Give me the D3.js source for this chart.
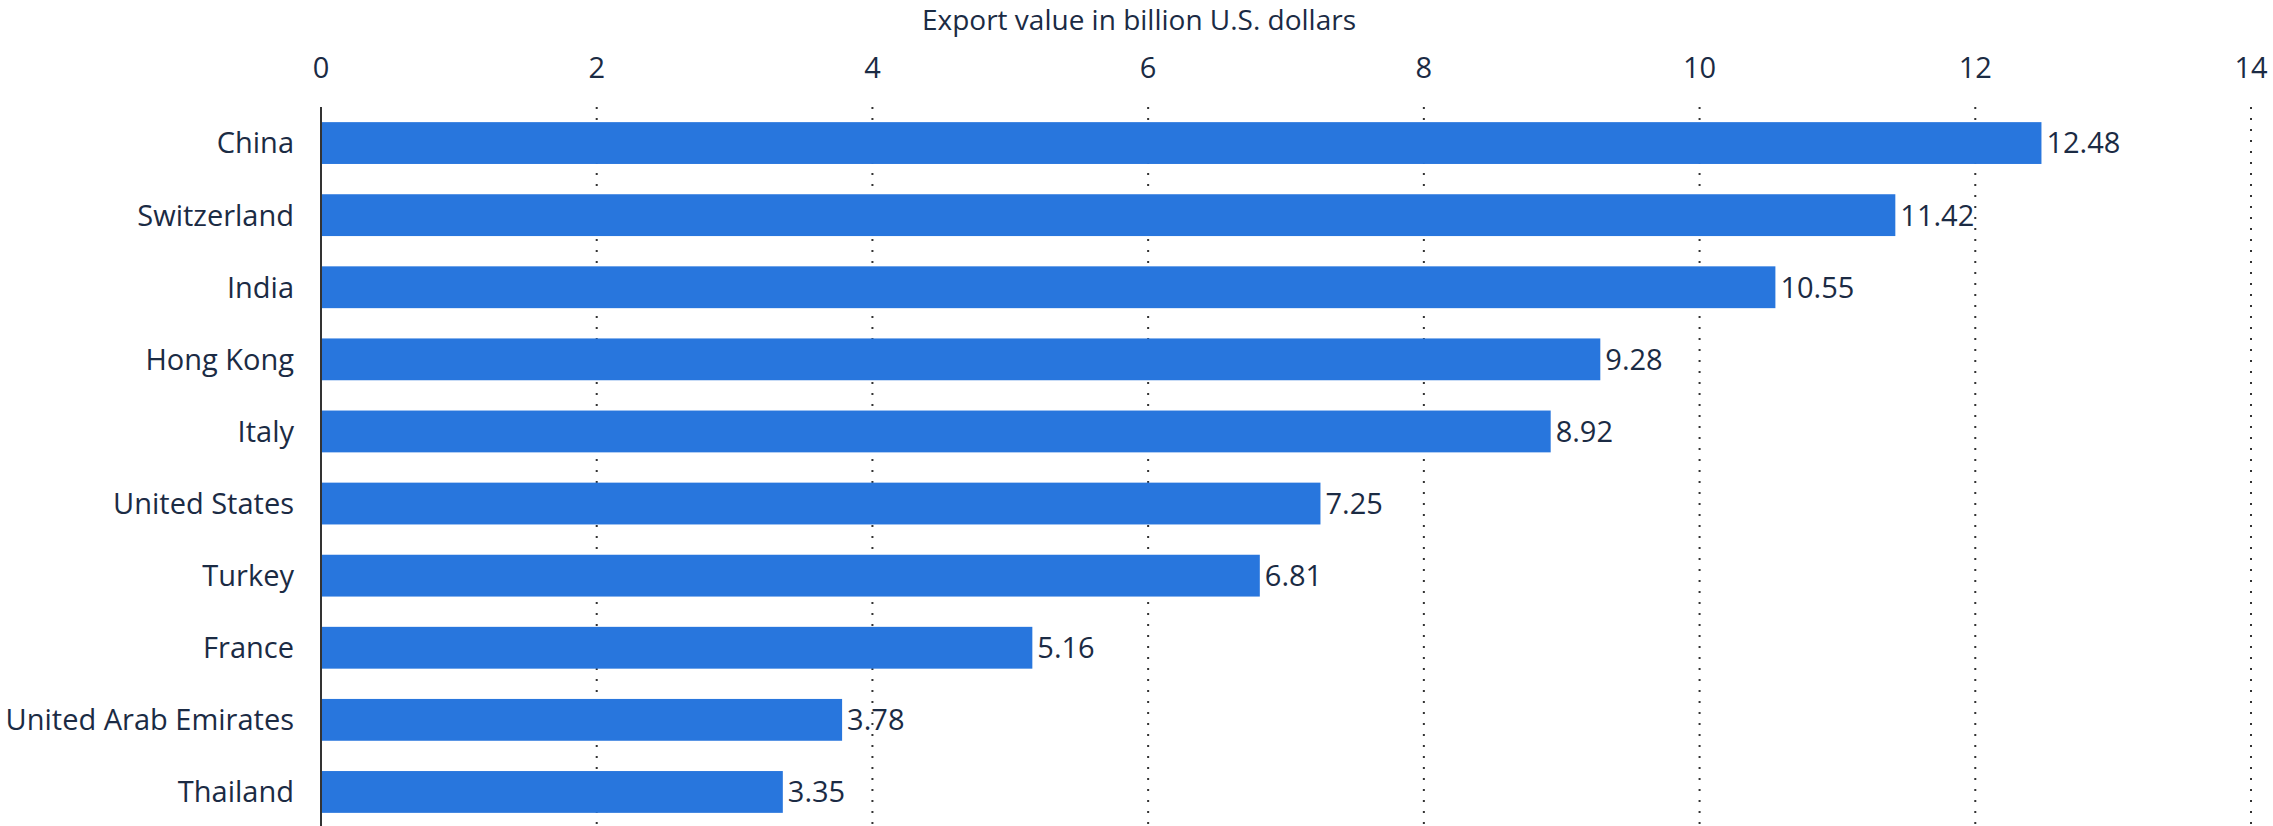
<!DOCTYPE html>
<html>
<head>
<meta charset="utf-8">
<script src="https://cdn.jsdelivr.net/npm/d3@7"></script>
<style>
  body { margin: 0; background: #fff; }
  svg text { font-family: "Open Sans", sans-serif; fill: #1b2b44; }
</style>
</head>
<body>
<svg id="chart"></svg>
<script>
// data
const countries = ["China", "Switzerland", "India", "Hong Kong", "Italy",
    "United States", "Turkey", "France", "United Arab Emirates", "Thailand"];
const exportValues = [12.48, 11.42, 10.55, 9.28, 8.92, 7.25, 6.81, 5.16, 3.78, 3.35];
const xTicks = [0, 2, 4, 6, 8, 10, 12, 14];
const axisTitle = "Export value in billion U.S. dollars";

const chartWidth = 2273
const chartHeight = 826
const plotLeft = 321
const plotRight = 2251
const plotTop = 107
const plotBottom = 828

const svg = d3.select("#chart")
    .attr("width", chartWidth)
    .attr("height", chartHeight);

const x = d3.scaleLinear()
    .domain([0, 14])
    .range([plotLeft, plotRight]);

const y = d3.scaleBand()
    .domain(countries)
    .range([plotTop, plotBottom])
    .paddingInner(0.42)
    .paddingOuter(0.21);

// axis title
svg.append("text")
    .attr("x", 1139)
    .attr("y", 30)
    .attr("text-anchor", "middle")
    .style("font-size", "28px")
    .text(axisTitle);

// tick labels on top
svg.append("g").selectAll("text")
    .data(xTicks)
    .enter()
    .append("text")
        .attr("x", d => x(d))
        .attr("y", 68)
        .attr("dy", "0.35em")
        .attr("text-anchor", "middle")
        .style("font-size", "29px")
        .text(d => d);

// value labels (drawn before grid so dots run over them like in the original)
svg.append("g").selectAll("text")
    .data(exportValues)
    .enter()
    .append("text")
        .attr("x", d => x(d) + 5)
        .attr("y", (d, i) => y(countries[i]) + y.bandwidth() / 2)
        .attr("dy", "0.36em")
        .style("font-size", "29px")
        .text(d => d.toFixed(2));

// dotted grid
svg.append("g").selectAll("line")
    .data(xTicks.slice(1))
    .enter()
    .append("line")
        .attr("x1", d => x(d))
        .attr("x2", d => x(d))
        .attr("y1", plotTop)
        .attr("y2", chartHeight)
        .attr("stroke", "#333")
        .attr("stroke-width", 2)
        .attr("stroke-dasharray", "2,9");

// bars
svg.append("g").selectAll("rect")
    .data(exportValues)
    .enter()
    .append("rect")
        .attr("x", x(0))
        .attr("y", (d, i) => y(countries[i]))
        .attr("width", d => x(d) - x(0))
        .attr("height", y.bandwidth())
        .attr("fill", "#2876dd");

// country labels
svg.append("g").selectAll("text")
    .data(countries)
    .enter()
    .append("text")
        .attr("x", 294)
        .attr("y", d => y(d) + y.bandwidth() / 2)
        .attr("dy", "0.36em")
        .attr("text-anchor", "end")
        .style("font-size", "29px")
        .text(d => d);

// zero line
svg.append("line")
    .attr("x1", x(0))
    .attr("x2", x(0))
    .attr("y1", plotTop)
    .attr("y2", chartHeight)
    .attr("stroke", "#333")
    .attr("stroke-width", 2);
</script>
</body>
</html>
